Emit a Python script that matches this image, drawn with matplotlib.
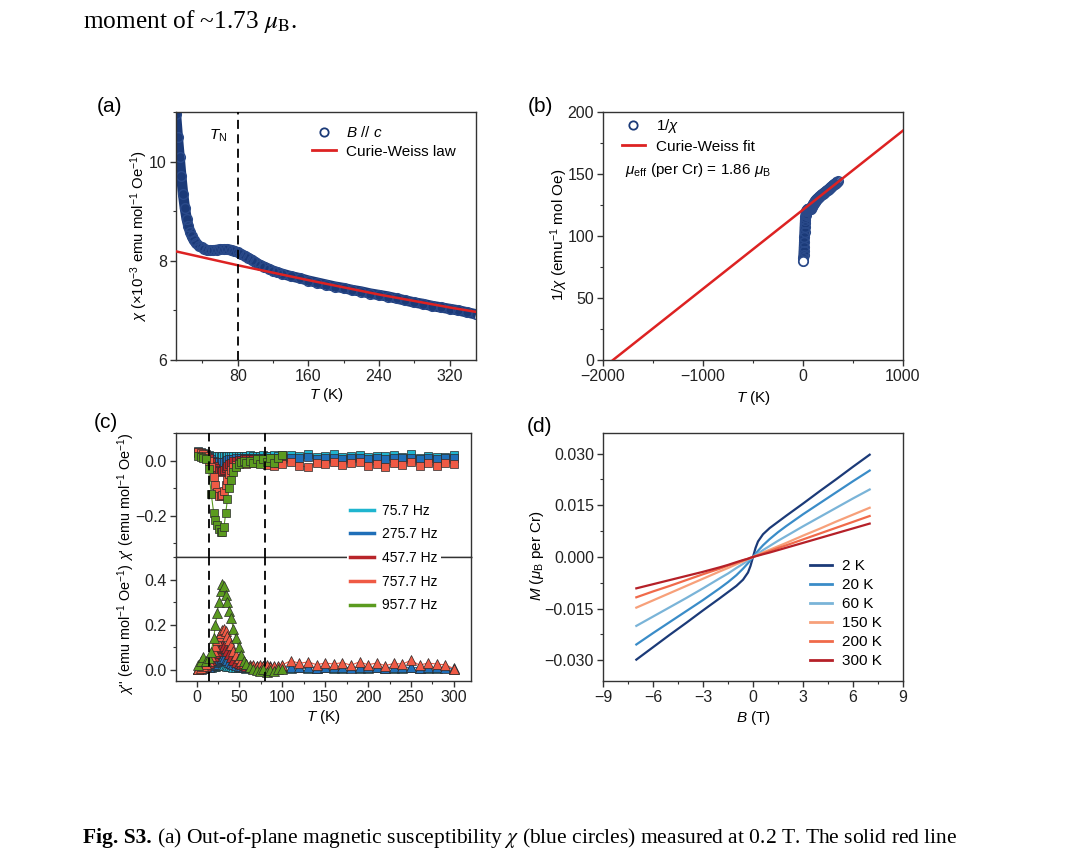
import matplotlib
matplotlib.use('Agg')
import matplotlib.pyplot as plt
from matplotlib.lines import Line2D
from matplotlib.ticker import MultipleLocator, FuncFormatter

plt.rcParams['font.family'] = ['Liberation Sans', 'DejaVu Sans']
plt.rcParams['mathtext.fontset'] = 'custom'
plt.rcParams['mathtext.rm'] = 'Liberation Sans'
plt.rcParams['mathtext.it'] = 'Liberation Sans:italic'
plt.rcParams['mathtext.bf'] = 'Liberation Sans:bold'
plt.rcParams['axes.linewidth'] = 1.0
plt.rcParams['axes.edgecolor'] = '#333333'

# ---------------- data ----------------
# (a) chi(T), B // c
T_a = [2, 4, 6, 8, 10, 12, 14, 16, 18, 20, 22, 24, 26, 28, 30, 33, 36, 39, 42, 45, 48, 52, 56,
       60, 64, 68, 72, 76, 80, 84, 88, 92, 96, 100, 105, 110, 115, 120, 125, 130, 140, 150, 160,
       170, 180, 190, 200, 210, 220, 230, 240, 250, 260, 270, 280, 290, 300, 310, 320, 330, 340, 350]
chi_a = [12.5, 12.2, 11.8, 11.4, 10.95, 10.5, 10.1, 9.7, 9.35, 9.07, 8.85, 8.7, 8.58, 8.49, 8.42,
         8.35, 8.3, 8.27, 8.24, 8.22, 8.21, 8.21, 8.22, 8.23, 8.23, 8.23, 8.22, 8.2, 8.17, 8.13,
         8.1, 8.06, 8.02, 7.97, 7.92, 7.88, 7.84, 7.8, 7.77, 7.74, 7.69, 7.65, 7.6, 7.56, 7.52,
         7.48, 7.45, 7.41, 7.38, 7.34, 7.31, 7.28, 7.24, 7.2, 7.16, 7.13, 7.09, 7.06, 7.03, 7.0,
         6.96, 6.92]
# Curie-Weiss law curve
T_cw = [10, 80, 160, 240, 320, 350]
chi_cw = [8.19, 7.91, 7.61, 7.32, 7.06, 6.97]

# (b) Curie-Weiss fit line of 1/chi
T_fit = [-1900, 1000]
inv_fit = [0, 185]
inv_chi_b = [1000.0 / v for v in chi_a]

# (c) AC susceptibility
freq_labels = ['75.7 Hz', '275.7 Hz', '457.7 Hz', '757.7 Hz', '957.7 Hz']
freq_colors = ['#1fb5cf', '#1f6fb8', '#b8252a', '#ef5a45', '#5b9b1f']
T_low = [2, 5, 8, 11, 14, 17, 20, 22, 24, 26, 28, 30, 32, 34, 36, 38, 40, 43, 46, 49, 52, 55, 58,
         62, 66, 70, 74, 78, 82, 86, 90, 95, 100]
T_high = [110, 120, 130, 140, 150, 160, 170, 180, 190, 200, 210, 220, 230, 240, 250, 260, 270,
          280, 290, 300]

chi1_757_low = [0.035, 0.030, 0.026, 0.022, 0.020, 0.018, 0.017, 0.016, 0.015, 0.015, 0.014, 0.015,
                0.016, 0.015, 0.016, 0.017, 0.016, 0.018, 0.017, 0.016, 0.018, 0.017, 0.016, 0.019,
                0.017, 0.018, 0.016, 0.019, 0.017, 0.018, 0.020, 0.017, 0.019]
chi1_757_high = [0.020, 0.015, 0.025, 0.012, 0.018, 0.022, 0.014, 0.016, 0.020, 0.012, 0.018,
                 0.015, 0.020, 0.013, 0.025, 0.010, 0.016, 0.014, 0.012, 0.020]
chi1_2757_low = [0.028, 0.025, 0.022, 0.018, 0.012, 0.006, 0.0, -0.004, -0.006, -0.007, -0.007,
                 -0.006, -0.004, -0.001, 0.002, 0.004, 0.006, 0.007, 0.008, 0.008, 0.009, 0.009,
                 0.008, 0.010, 0.009, 0.010, 0.009, 0.010, 0.011, 0.010, 0.009, 0.010, 0.011]
chi1_2757_high = [0.010, 0.008, 0.012, 0.007, 0.010, 0.009, 0.006, 0.011, 0.008, 0.007, 0.010,
                  0.006, 0.009, 0.008, 0.011, 0.006, 0.009, 0.007, 0.010, 0.008]
chi1_4577_low = [0.030, 0.028, 0.025, 0.020, 0.010, -0.005, -0.020, -0.028, -0.034, -0.038, -0.040,
                 -0.039, -0.035, -0.028, -0.020, -0.013, -0.008, -0.003, 0.0, 0.002, 0.003, 0.004,
                 0.005, 0.004, 0.006, 0.005, 0.004, 0.006, 0.005, 0.004, 0.006, 0.005, 0.004]
chi1_7577_low = [0.030, 0.027, 0.022, 0.015, 0.0, -0.025, -0.060, -0.090, -0.115, -0.128, -0.130,
                 -0.125, -0.110, -0.090, -0.070, -0.050, -0.035, -0.022, -0.015, -0.010, -0.007,
                 -0.005, -0.012, -0.004, -0.008, -0.002, -0.010, -0.004, -0.015, -0.006, -0.020,
                 -0.008, -0.012]
chi1_7577_high = [-0.005, -0.018, -0.025, -0.008, -0.012, -0.006, -0.015, -0.010, -0.004, -0.020,
                  -0.012, -0.025, -0.008, -0.015, -0.005, -0.018, -0.010, -0.020, -0.008, -0.012]
chi1_9577_low = [0.015, 0.012, 0.010, 0.005, -0.030, -0.120, -0.190, -0.215, -0.235, -0.250,
                 -0.260, -0.258, -0.240, -0.190, -0.140, -0.100, -0.070, -0.040, -0.022, -0.012,
                 -0.006, -0.002, -0.010, 0.0, -0.008, 0.004, -0.012, 0.006, -0.004, 0.008, -0.010,
                 0.010, 0.020]

chi2_757_low = [0.005, 0.006, 0.008, 0.010, 0.012, 0.014, 0.016, 0.018, 0.020, 0.021, 0.022, 0.022,
                0.021, 0.020, 0.018, 0.016, 0.015, 0.013, 0.012, 0.011, 0.010, 0.010, 0.009, 0.010,
                0.009, 0.010, 0.008, 0.010, 0.009, 0.008, 0.010, 0.009, 0.010]
chi2_757_high = [0.008, 0.010, 0.007, 0.009, 0.010, 0.008, 0.007, 0.010, 0.009, 0.008, 0.010,
                 0.007, 0.009, 0.008, 0.010, 0.007, 0.009, 0.008, 0.010, 0.005]
chi2_2757_low = [0.004, 0.005, 0.007, 0.010, 0.014, 0.020, 0.027, 0.033, 0.039, 0.044, 0.048,
                 0.050, 0.050, 0.047, 0.042, 0.036, 0.031, 0.025, 0.020, 0.017, 0.015, 0.013,
                 0.012, 0.011, 0.010, 0.011, 0.010, 0.009, 0.011, 0.010, 0.009, 0.010, 0.011]
chi2_2757_high = [0.012, 0.010, 0.011, 0.009, 0.012, 0.010, 0.011, 0.009, 0.012, 0.010, 0.011,
                  0.009, 0.012, 0.010, 0.011, 0.009, 0.010, 0.011, 0.009, 0.006]
chi2_4577_low = [0.004, 0.006, 0.010, 0.018, 0.030, 0.045, 0.060, 0.072, 0.085, 0.095, 0.103,
                 0.108, 0.105, 0.095, 0.082, 0.070, 0.058, 0.045, 0.035, 0.028, 0.024, 0.020,
                 0.018, 0.016, 0.015, 0.017, 0.014, 0.016, 0.013, 0.015, 0.012, 0.014, 0.015]
chi2_7577_low = [0.004, 0.008, 0.015, 0.025, 0.040, 0.060, 0.085, 0.105, 0.130, 0.150, 0.165,
                 0.178, 0.180, 0.170, 0.150, 0.130, 0.110, 0.085, 0.065, 0.050, 0.040, 0.030,
                 0.025, 0.022, 0.020, 0.018, 0.022, 0.015, 0.020, 0.012, 0.018, 0.015, 0.022]
chi2_7577_high = [0.040, 0.028, 0.035, 0.022, 0.030, 0.025, 0.032, 0.020, 0.035, 0.022, 0.030,
                  0.018, 0.028, 0.025, 0.042, 0.020, 0.030, 0.025, 0.022, 0.005]
chi2_9577_low = [0.020, 0.040, 0.055, 0.040, 0.050, 0.080, 0.140, 0.200, 0.250, 0.300, 0.350,
                 0.380, 0.370, 0.330, 0.300, 0.260, 0.230, 0.180, 0.140, 0.100, 0.065, 0.040,
                 0.025, 0.010, 0.005, 0.0, -0.005, 0.005, -0.008, 0.0, -0.005, 0.003, 0.005]

# (d) M(B)
B_d = [-7, -6, -5, -4, -3, -2, -1.5, -1, -0.6, -0.3, -0.15, 0, 0.15, 0.3, 0.6, 1, 1.5, 2, 3, 4,
       5, 6, 7]
temp_labels = ['2 K', '20 K', '60 K', '150 K', '200 K', '300 K']
temp_colors = ['#1b3a78', '#3a8cc8', '#7ab4d8', '#f7a07a', '#f06a4a', '#b52028']
M_2K = [-0.0298, -0.0262, -0.0226, -0.0191, -0.0155, -0.0120, -0.0102, -0.0084, -0.0066, -0.0045,
        -0.0026, 0.0, 0.0026, 0.0045, 0.0066, 0.0084, 0.0102, 0.0120, 0.0155, 0.0191, 0.0226,
        0.0262, 0.0297]
M_20K = [-0.0254, -0.0221, -0.0189, -0.0157, -0.0125, -0.0091, -0.0073, -0.0053, -0.0034, -0.0018,
         -0.0009, 0.0, 0.0009, 0.0018, 0.0034, 0.0052, 0.0072, 0.0090, 0.0124, 0.0156, 0.0188,
         0.0220, 0.0251]
M_60K = [-0.0200, -0.0173, -0.0146, -0.0119, -0.0091, -0.0062, -0.0048, -0.0032, -0.0020, -0.0010,
         -0.0005, 0.0, 0.0005, 0.0010, 0.0020, 0.0032, 0.0047, 0.0061, 0.0089, 0.0116, 0.0143,
         0.0170, 0.0196]
M_150K = [-0.0147, -0.0126, -0.0105, -0.0084, -0.0063, -0.0042, -0.0032, -0.0021, -0.0013,
          -0.0006, -0.0003, 0.0, 0.0003, 0.0006, 0.0013, 0.0021, 0.0031, 0.0041, 0.0062, 0.0082,
          0.0103, 0.0123, 0.0143]
M_200K = [-0.0117, -0.0100, -0.0084, -0.0067, -0.0050, -0.0034, -0.0025, -0.0017, -0.0010,
          -0.0005, -0.0003, 0.0, 0.0003, 0.0005, 0.0010, 0.0017, 0.0026, 0.0034, 0.0051, 0.0068,
          0.0085, 0.0102, 0.0119]
M_300K = [-0.0091, -0.0079, -0.0067, -0.0055, -0.0043, -0.0030, -0.0023, -0.0015, -0.0009,
          -0.0005, -0.0002, 0.0, 0.0002, 0.0004, 0.0008, 0.0013, 0.0020, 0.0027, 0.0041, 0.0055,
          0.0069, 0.0083, 0.0097]

# ---------------- figure ----------------
W, H = 1080, 863
fig = plt.figure(figsize=(W / 100, H / 100), dpi=100)
fig.patch.set_facecolor('white')


def rect(l, t, r, b):
    return [l / W, 1 - b / H, (r - l) / W, (b - t) / H]


def fx(px):
    return px / W


def fy(py):
    return 1 - py / H


def style(ax):
    ax.tick_params(which='both', direction='out', top=False, right=False, colors='#333333',
                   labelcolor='#222222', labelsize=11.5, pad=2.5)
    ax.tick_params(which='major', length=4, width=1.0)
    ax.tick_params(which='minor', length=2.5, width=0.8)


def fmt(nd):
    return FuncFormatter(lambda v, p: ('%.*f' % (nd, v)).replace('-', '\u2212')
                         if abs(v) > 1e-12 else '%.*f' % (nd, 0.0))


navy = '#1b3a78'
red = '#dd2222'
FS = 11
LFS = 11

# (a)
ax_a = fig.add_axes(rect(176, 112, 476, 360))
ax_a.plot(T_a, chi_a, '-', color=navy, lw=7.5, zorder=2, solid_capstyle='butt')
ax_a.plot(T_a, chi_a, 'o', ms=7, mfc='none', mec='#2a4a8a', mew=1.0, zorder=2)
ax_a.plot(T_cw, chi_cw, '-', color=red, lw=1.8, zorder=3)
ax_a.axvline(80, color='k', lw=1.3, ls=(0, (5, 3)), zorder=4)
ax_a.set_xlim(10, 350)
ax_a.set_ylim(6, 11)
ax_a.xaxis.set_major_locator(MultipleLocator(80))
ax_a.xaxis.set_minor_locator(MultipleLocator(40))
ax_a.yaxis.set_major_locator(MultipleLocator(2))
ax_a.yaxis.set_minor_locator(MultipleLocator(1))
style(ax_a)
ax_a.text(fx(218), fy(136), r'$T_{\mathrm{N}}$', transform=fig.transFigure, fontsize=FS,
          ha='center', va='center')
h_a = [Line2D([], [], ls='none', marker='o', ms=6, mfc='none', mec=navy, mew=1.3),
       Line2D([], [], color=red, lw=2)]
ax_a.legend(h_a, [r'$B$ // $c$', 'Curie-Weiss law'], loc='upper left',
            bbox_to_anchor=(fx(312), fy(125)), bbox_transform=fig.transFigure, frameon=False,
            fontsize=LFS, handlelength=1.55, handletextpad=0.65, labelspacing=0.3, borderpad=0,
            borderaxespad=0)

# (b)
ax_b = fig.add_axes(rect(603, 112, 903, 360))
ax_b.plot(T_a, inv_chi_b, '-', color=navy, lw=7.5, zorder=2, solid_capstyle='butt')
ax_b.plot(T_a, inv_chi_b, 'o', ms=7, mfc='none', mec='#2a4a8a', mew=1.0, zorder=2)
ax_b.plot(T_a[:1], inv_chi_b[:1], 'o', ms=6.5, mfc='white', mec='#2a4a8a', mew=1.0, zorder=2.5)
ax_b.plot(T_fit, inv_fit, '-', color=red, lw=1.8, zorder=3)
ax_b.set_xlim(-2000, 1000)
ax_b.set_ylim(0, 200)
ax_b.xaxis.set_major_locator(MultipleLocator(1000))
ax_b.xaxis.set_minor_locator(MultipleLocator(500))
ax_b.yaxis.set_major_locator(MultipleLocator(50))
ax_b.yaxis.set_minor_locator(MultipleLocator(25))
style(ax_b)
h_b = [Line2D([], [], ls='none', marker='o', ms=6, mfc='none', mec=navy, mew=1.3),
       Line2D([], [], color=red, lw=2)]
ax_b.legend(h_b, [r'1/$\chi$', 'Curie-Weiss fit'], loc='upper left',
            bbox_to_anchor=(fx(622), fy(117)), bbox_transform=fig.transFigure, frameon=False,
            fontsize=LFS, handlelength=1.5, handletextpad=0.7, labelspacing=0.3, borderpad=0,
            borderaxespad=0)
fig.text(fx(625), fy(170), r'$\mu_{\mathrm{eff}}$ (per Cr) = 1.86 $\mu_{\mathrm{B}}$',
         fontsize=LFS, ha='left', va='center')

# (c)
ax_c1 = fig.add_axes(rect(176, 433, 471, 557))
ax_c2 = fig.add_axes(rect(176, 557, 471, 681), sharex=ax_c1)
top_series = [(T_low + T_high, chi1_757_low + chi1_757_high),
              (T_low + T_high, chi1_2757_low + chi1_2757_high),
              (T_low, chi1_4577_low),
              (T_low + T_high, chi1_7577_low + chi1_7577_high),
              (T_low, chi1_9577_low)]
bot_series = [(T_low + T_high, chi2_757_low + chi2_757_high),
              (T_low + T_high, chi2_2757_low + chi2_2757_high),
              (T_low, chi2_4577_low),
              (T_low + T_high, chi2_7577_low + chi2_7577_high),
              (T_low, chi2_9577_low)]
for (tt, vv), c in zip(top_series, freq_colors):
    ax_c1.plot(tt, vv, '-s', color=c, lw=0.8, ms=6, mfc=c, mec='#2a2a2a', mew=0.5)
for (tt, vv), c in zip(bot_series, freq_colors):
    ax_c2.plot(tt, vv, '-^', color=c, lw=0.8, ms=6.5, mfc=c, mec='#2a2a2a', mew=0.5)
for ax in (ax_c1, ax_c2):
    for tv in (15, 80):
        ax.axvline(tv, color='k', lw=1.3, ls=(0, (5, 3)), zorder=5)
    style(ax)
ax_c1.set_xlim(-24, 320)
ax_c1.set_ylim(-0.35, 0.1)
ax_c2.set_ylim(-0.05, 0.5)
ax_c1.yaxis.set_major_locator(MultipleLocator(0.2))
ax_c1.yaxis.set_minor_locator(MultipleLocator(0.1))
ax_c2.yaxis.set_major_locator(MultipleLocator(0.2))
ax_c2.yaxis.set_minor_locator(MultipleLocator(0.1))
ax_c1.yaxis.set_major_formatter(fmt(1))
ax_c2.yaxis.set_major_formatter(fmt(1))
ax_c2.xaxis.set_major_locator(MultipleLocator(50))
ax_c2.xaxis.set_minor_locator(MultipleLocator(25))
ax_c1.tick_params(which='both', bottom=False, labelbottom=False)
h_c = [Line2D([], [], color=c, lw=2.5) for c in freq_colors]
fig.legend(h_c, freq_labels, loc='center left', bbox_to_anchor=(fx(347), fy(558)),
           frameon=True, fancybox=False, facecolor='white', edgecolor='none', framealpha=1,
           fontsize=10, handlelength=1.7, handletextpad=0.55, labelspacing=0.7, borderpad=0.25,
           borderaxespad=0)

# (d)
ax_d = fig.add_axes(rect(603, 433, 903, 681))
for M, c in zip([M_2K, M_20K, M_60K, M_150K, M_200K, M_300K], temp_colors):
    ax_d.plot(B_d, M, '-', color=c, lw=1.6)
ax_d.set_xlim(-9, 9)
ax_d.set_ylim(-0.036, 0.036)
ax_d.xaxis.set_major_locator(MultipleLocator(3))
ax_d.xaxis.set_minor_locator(MultipleLocator(1.5))
ax_d.yaxis.set_major_locator(MultipleLocator(0.015))
ax_d.yaxis.set_minor_locator(MultipleLocator(0.0075))
ax_d.yaxis.set_major_formatter(fmt(3))
style(ax_d)
h_d = [Line2D([], [], color=c, lw=2) for c in temp_colors]
ax_d.legend(h_d, temp_labels, loc='upper left', bbox_to_anchor=(fx(810), fy(559)),
            bbox_transform=fig.transFigure, frameon=False, fontsize=LFS, handlelength=1.45,
            handletextpad=0.65, labelspacing=0.33, borderpad=0, borderaxespad=0)

# axis labels
fig.text(fx(326), fy(395), r'$T$ (K)', fontsize=FS, ha='center', va='center')
fig.text(fx(753), fy(398), r'$T$ (K)', fontsize=FS, ha='center', va='center')
fig.text(fx(323), fy(717), r'$T$ (K)', fontsize=FS, ha='center', va='center')
fig.text(fx(753), fy(718), r'$B$ (T)', fontsize=FS, ha='center', va='center')
fig.text(fx(139), fy(236), r'$\chi$ ($\times$10$^{-3}$ emu mol$^{-1}$ Oe$^{-1}$)', fontsize=10.7,
         ha='center', va='center', rotation=90)
fig.text(fx(559), fy(235), r'1/$\chi$ (emu$^{-1}$ mol Oe)', fontsize=FS, ha='center',
         va='center', rotation=90)
fig.text(fx(126), fy(497), r"$\chi$' (emu mol$^{-1}$ Oe$^{-1}$)", fontsize=10.4, ha='center',
         va='center', rotation=90)
fig.text(fx(126), fy(629), r"$\chi$'' (emu mol$^{-1}$ Oe$^{-1}$)", fontsize=10.4, ha='center',
         va='center', rotation=90)
fig.text(fx(537), fy(556), r'$M$ ($\mu_{\mathrm{B}}$ per Cr)', fontsize=FS, ha='center',
         va='center', rotation=90)

# panel letters
for lab, x, y in [('(a)', 110, 106), ('(b)', 540, 106), ('(c)', 106, 422), ('(d)', 540, 426)]:
    fig.text(fx(x), fy(y), lab, fontsize=15, ha='center', va='center')

# surrounding document text
serif = ['Liberation Serif', 'DejaVu Serif']
fig.text(fx(83), fy(28), r'moment of ~1.73 $\mu_{\mathrm{B}}$.', family=serif, math_fontfamily='stix',
         fontsize=18.3, ha='left', va='baseline')
cap_bold = fig.text(fx(83), fy(843), 'Fig. S3.', family=serif, fontweight='bold',
                    fontsize=15.5, ha='left', va='baseline')
renderer = fig.canvas.get_renderer()
bb = cap_bold.get_window_extent(renderer=renderer)
fig.text(bb.x1 / W + fx(5), fy(843),
         r'(a) Out-of-plane magnetic susceptibility $\chi$ (blue circles) '
         r'measured at 0.2 T. The solid red line', family=serif, math_fontfamily='stix',
         fontsize=15.5, ha='left', va='baseline')

fig.savefig('out.png', dpi=100)
